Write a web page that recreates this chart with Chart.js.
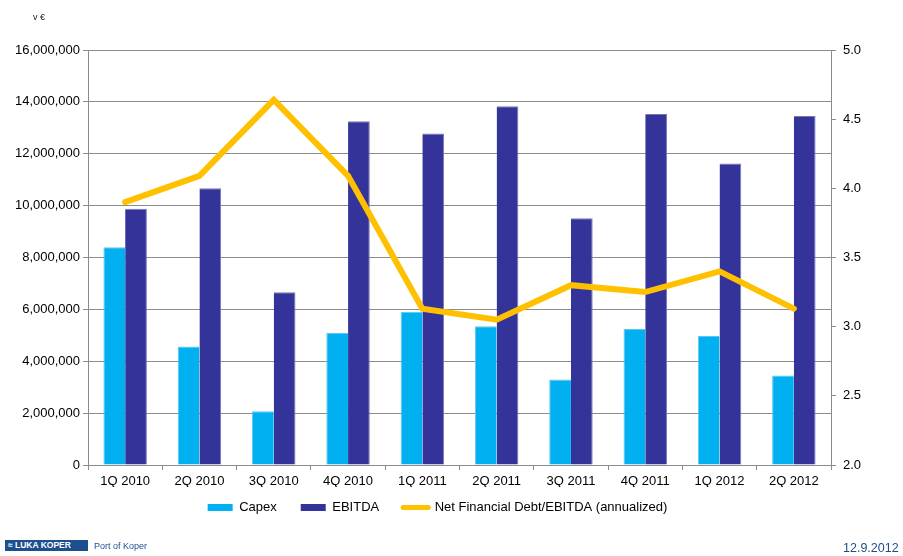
<!DOCTYPE html>
<html>
<head>
<meta charset="utf-8">
<script src="https://cdn.jsdelivr.net/npm/chart.js@4/dist/chart.umd.min.js"></script>
<style>
  html, body { margin: 0; padding: 0; background: #fff; }
  #wrap { position: relative; width: 903px; height: 556px; font-family: "Liberation Sans", Arial, sans-serif; }
  #c { position: absolute; left: 0; top: 0; }
  #unit { position: absolute; left: 33px; top: 12px; font-size: 9px; color: #222; }
  #logo { position: absolute; left: 5px; top: 540px; height: 11px; display: flex; align-items: center; }
  #logo .box { background: #1d4f8f; color: #fff; font-weight: bold; font-size: 8.5px; height: 11px; line-height: 11px; width: 83px; box-sizing: border-box; padding-left: 3px; white-space: nowrap; overflow: hidden; }
  #logo .txt { color: #1d4f8f; font-size: 9px; margin-left: 6px; }
  #date { position: absolute; left: 843px; top: 541px; font-size: 12.5px; color: #1f4e86; }
</style>
</head>
<body>
<div id="wrap">
  <canvas id="c" width="903" height="556"></canvas>
  <div id="unit">v €</div>
  <div id="logo"><span class="box">&#8776; LUKA KOPER</span><span class="txt">Port of Koper</span></div>
  <div id="date">12.9.2012</div>
</div>
<script>
const categories = ["1Q 2010","2Q 2010","3Q 2010","4Q 2010","1Q 2011","2Q 2011","3Q 2011","4Q 2011","1Q 2012","2Q 2012"];
const capex = [8400000, 4570000, 2070000, 5090000, 5910000, 5350000, 3300000, 5240000, 4970000, 3450000];
const ebitda = [9880000, 10670000, 6660000, 13250000, 12780000, 13830000, 9510000, 13530000, 11620000, 13460000];
const netDebtRatio = [3.90, 4.09, 4.64, 4.09, 3.13, 3.05, 3.30, 3.25, 3.40, 3.13];
const leftTicks = [0, 2000000, 4000000, 6000000, 8000000, 10000000, 12000000, 14000000, 16000000];
const rightTicks = [2.0, 2.5, 3.0, 3.5, 4.0, 4.5, 5.0];

const FONT = "'Liberation Sans', Arial, sans-serif";
const GRID = "#8c8c8c";

const legendShift = {
  id: 'legendShift',
  afterLayout(chart) {
    if (chart.legend) { chart.legend.top -= 10; chart.legend.bottom -= 10; }
  }
};

new Chart(document.getElementById('c'), {
  data: {
    labels: categories,
    datasets: [
      { type: 'line', label: 'Net Financial Debt/EBITDA (annualized)', data: netDebtRatio, yAxisID: 'y1',
        borderColor: '#FFC000', backgroundColor: '#FFC000', borderWidth: 6, pointRadius: 0, tension: 0,
        borderJoinStyle: 'miter', borderCapStyle: 'round', order: 0 },
      { type: 'bar', label: 'Capex', data: capex, yAxisID: 'y', backgroundColor: '#00B0F0', order: 1,
        borderColor: '#5cc8f2', borderWidth: { top: 1, left: 1, right: 0, bottom: 0 },
        categoryPercentage: 0.585, barPercentage: 1.0 },
      { type: 'bar', label: 'EBITDA', data: ebitda, yAxisID: 'y', backgroundColor: '#333399', order: 1,
        borderColor: '#7777b8', borderWidth: { top: 1, left: 0, right: 1, bottom: 0 },
        categoryPercentage: 0.585, barPercentage: 1.0 }
    ]
  },
  plugins: [legendShift],
  options: {
    responsive: false,
    animation: false,
    devicePixelRatio: 1,
    layout: { padding: { top: 50, bottom: 22, left: 0, right: 28 } },
    plugins: {
      tooltip: { enabled: false },
      legend: {
        position: 'bottom',
        labels: {
          font: { family: FONT, size: 13 },
          color: '#000',
          padding: 24,
          usePointStyle: true,
          pointStyleWidth: 25,
          boxHeight: 7,
          generateLabels(chart) {
            const ds = chart.data.datasets;
            const order = [1, 2, 0];
            return order.map(i => ({
              text: ds[i].label,
              datasetIndex: i,
              fillStyle: ds[i].backgroundColor,
              strokeStyle: ds[i].type === 'line' ? ds[i].borderColor : ds[i].backgroundColor,
              lineWidth: ds[i].type === 'line' ? 5 : 0,
              lineCap: 'round',
              pointStyle: ds[i].type === 'line' ? 'line' : 'rect',
              hidden: false
            }));
          }
        }
      }
    },
    scales: {
      x: {
        offset: true,
        grid: { display: true, offset: true, drawOnChartArea: false, drawTicks: true, tickLength: 5, color: GRID },
        border: { display: true, color: GRID },
        ticks: { font: { family: FONT, size: 13 }, color: '#000', padding: 4, maxRotation: 0 },
        afterFit(s) { s.height = 22; }
      },
      y: {
        position: 'left',
        min: 0, max: 16000000,
        afterBuildTicks(s) { s.ticks = leftTicks.map(v => ({ value: v })); },
        ticks: { font: { family: FONT, size: 13 }, color: '#000', padding: 3,
          callback: v => Number(v).toLocaleString('en-US') },
        grid: { color: GRID, tickLength: 5 },
        border: { display: true, color: GRID },
        afterFit(s) { s.width = 88; }
      },
      y1: {
        position: 'right',
        min: 2.0, max: 5.0,
        afterBuildTicks(s) { s.ticks = rightTicks.map(v => ({ value: v })); },
        ticks: { font: { family: FONT, size: 13 }, color: '#000', padding: 7,
          callback: v => Number(v).toFixed(1) },
        grid: { drawOnChartArea: false, color: GRID, tickLength: 5 },
        border: { display: true, color: GRID },
        afterFit(s) { s.width = 44; }
      }
    }
  }
});
</script>
</body>
</html>
